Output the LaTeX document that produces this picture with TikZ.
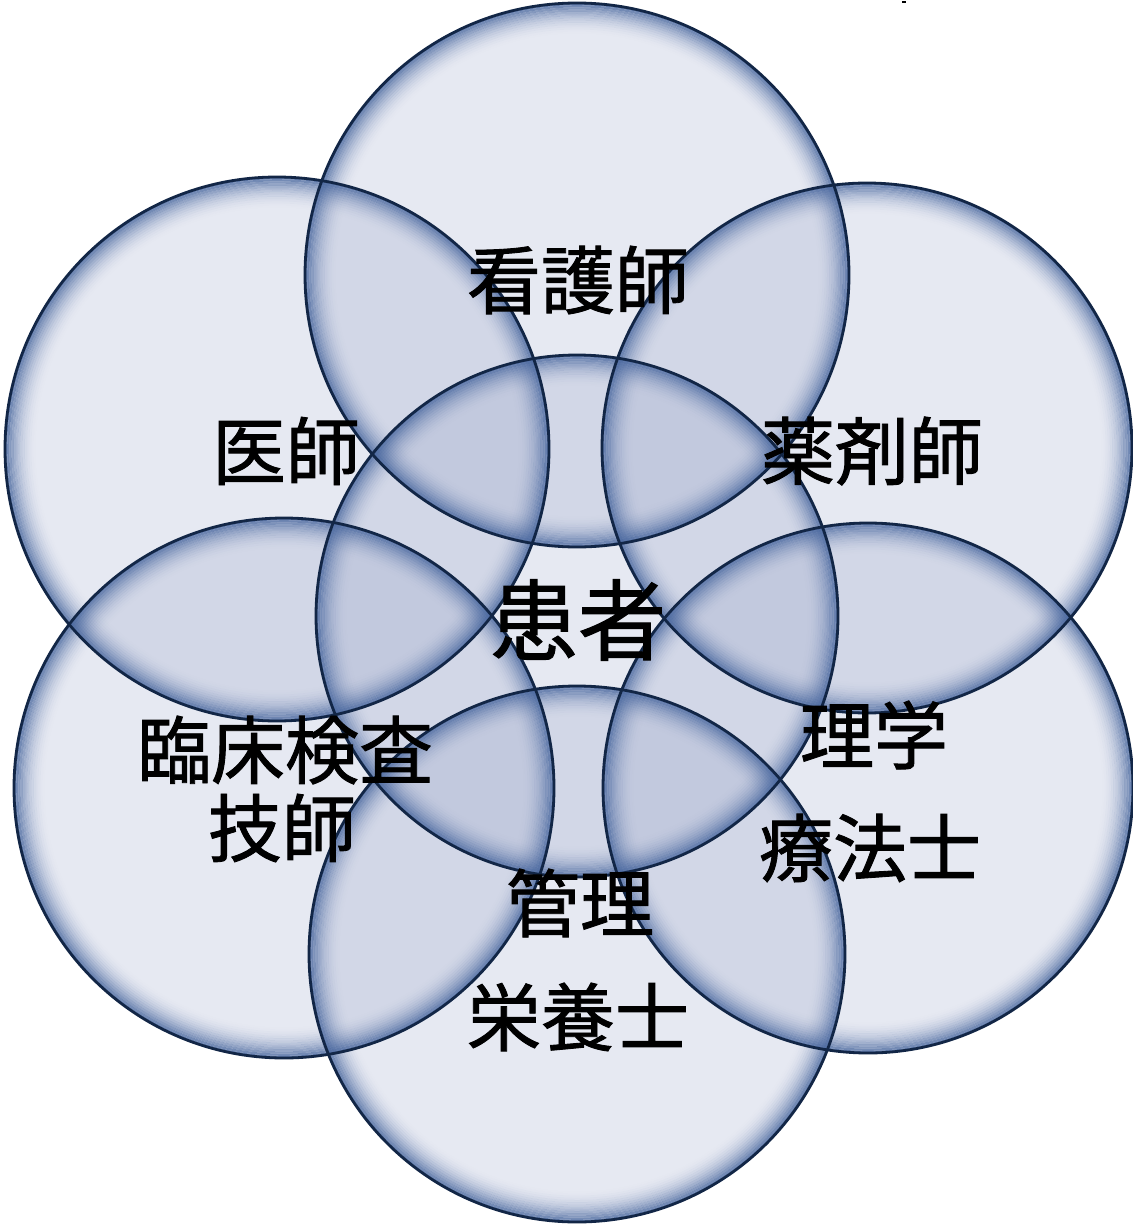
\documentclass[tikz,border=0pt]{standalone}
\usepackage{fontspec}
\newfontfamily\cjk[FakeBold=1.2]{Noto Sans CJK JP}
\begin{document}
\begin{tikzpicture}[x=1pt,y=-1pt]
\definecolor{disk}{RGB}{130,145,190}
\definecolor{rim}{RGB}{75,105,160}
\definecolor{edgec}{RGB}{18,38,70}
\tikzset{
  lbl/.style={font=\cjk\fontsize{74}{80}\selectfont, text=black, inner sep=0pt},
  biglbl/.style={font=\cjk\fontsize{88}{94}\selectfont, text=black, inner sep=0pt},
  diskfill/.style={fill=disk, fill opacity=0.2},
  diskedge/.style={draw=edgec, line width=2.8pt}
}
\useasboundingbox (0,0) rectangle (1132,1225);
\fill[white] (0,0) rectangle (1132,1225);
\fill[black] (902,1) rectangle (906,3.5);
% circles: x/y/r
\def\circlelist{577/275/272, 277/449/272, 867/448/265, 284/788/270, 868/788/265, 577/954/268, 577/616/261}
\foreach \x/\y/\r in \circlelist {
  \fill[diskfill] (\x,\y) circle[radius=\r];
}
\foreach \x/\y/\r in \circlelist {
  \foreach \i in {1,...,14} {
    \pgfmathsetmacro\rr{\r-(\i-0.5)*2.2}
    \pgfmathsetmacro\op{0.85*((15-\i)/14)^2}
    \draw[rim, line width=2.2pt, draw opacity=\op] (\x,\y) circle[radius=\rr];
  }
}
\foreach \x/\y/\r in \circlelist {
  \draw[diskedge] (\x,\y) circle[radius=\r];
}
\node[lbl] (kango) at (578,280) {看護師};
\node[lbl] (ishi) at (286,451) {医師};
\node[lbl] (yaku) at (872,451) {薬剤師};
\node[biglbl] (kanja) at (578,620) {患者};
\node[lbl] (rinsho) at (285,750) {臨床検査};
\node[lbl] (gishi) at (282,828) {技師};
\node[lbl] (rigaku) at (874,735) {理学};
\node[lbl] (ryoho) at (870,848) {療法士};
\node[lbl] (kanri) at (580,903) {管理};
\node[lbl] (eiyo) at (578,1017) {栄養士};
\end{tikzpicture}
\end{document}
